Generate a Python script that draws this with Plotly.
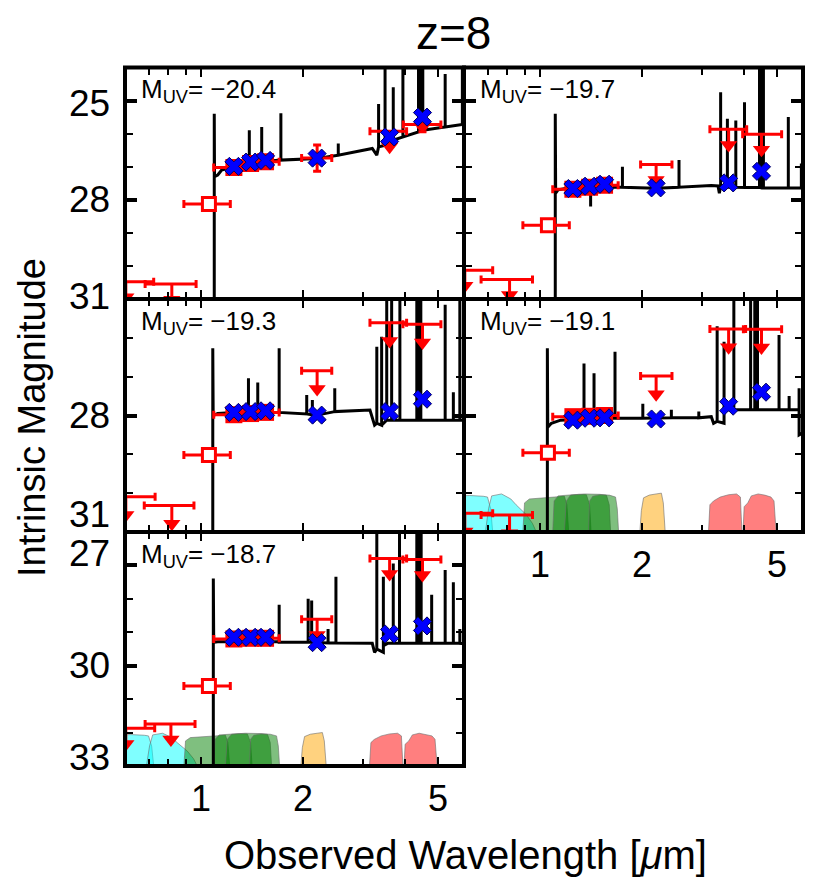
import plotly.graph_objects as go

FONT = "Liberation Sans, Arial, Helvetica, sans-serif"
OFF = 8                      # page offset of the plot div (default body margin)
FIG_W, FIG_H = 831 - OFF, 884 - OFF

# ---------------- data ----------------
MUV = ["−20.4", "−19.7", "−19.3", "−19.1", "−18.7"]

# model photometry (blue crosses)
MODEL_LAM = [1.25, 1.40, 1.55, 2.20, 3.60, 4.50]
model_mag = [
    [26.99, 26.86, 26.81, 26.74, 26.10, 25.50],
    [27.66, 27.59, 27.53, 27.64, 27.49, 27.14],
    [27.92, 27.90, 27.88, 27.99, 27.90, 27.58],
    [28.12, 28.07, 28.06, 28.09, 27.76, 27.40],
    [29.15, 29.15, 29.15, 29.31, 29.05, 28.81],
]

# HST detections (filled red squares)
HST_LAM = [1.25, 1.40, 1.55]
HST_LO = [1.09, 1.20, 1.40]
HST_HI = [1.41, 1.60, 1.70]
hst_mag = [
    [27.02, 26.90, 26.85],
    [27.68, 27.62, 27.56],
    [27.98, 27.95, 27.92],
    [28.03, 28.02, 28.00],
    [29.20, 29.18, 29.18],
]

# ground / IRAC detections (panel 1 only)
p1_det_lam = [2.20, 4.50]
p1_det_lo = [1.98, 3.95]
p1_det_hi = [2.43, 5.10]
p1_det_mag = [26.74, 25.72]
p1_det_err = [0.40, 0.22]

# Y-band points (open squares)
Y_LAM, Y_LO, Y_HI = 1.055, 0.89, 1.22
y_mag = [28.13, 28.77, 29.02, 28.96, 30.61]

# upper limits
ul_lam = [
    [0.60, 0.82, 3.60],
    [0.60, 0.813, 2.20, 3.60, 4.50],
    [0.60, 0.82, 2.20, 3.60, 4.50],
    [0.60, 0.813, 2.20, 3.60, 4.50],
    [0.60, 0.815, 2.20, 3.60, 4.50],
]
ul_lo = [
    [0.50, 0.684, 3.15],
    [0.50, 0.67, 1.98, 3.17, 3.96],
    [0.50, 0.68, 1.98, 3.15, 3.94],
    [0.50, 0.67, 1.98, 3.17, 3.98],
    [0.50, 0.684, 1.98, 3.15, 3.94],
]
ul_hi = [
    [0.725, 0.967, 4.04],
    [0.725, 0.95, 2.45, 4.07, 5.16],
    [0.732, 0.953, 2.43, 4.04, 5.10],
    [0.725, 0.95, 2.45, 4.04, 5.16],
    [0.730, 0.96, 2.43, 4.04, 5.10],
]
ul_mag = [
    [30.48, 30.55, 25.93],
    [30.13, 30.41, 26.93, 25.87, 26.02],
    [30.09, 30.32, 26.85, 25.61, 25.65],
    [30.52, 30.56, 26.98, 25.77, 25.78],
    [31.87, 31.74, 28.61, 26.79, 26.82],
]

# model spectra (continuum + emission-line spikes)
spec_lam = [
    [1.094, 1.094, 1.096, 1.12, 1.15, 1.25, 1.388, 1.388, 1.388, 1.51, 1.51, 1.51,
     1.72, 1.72, 1.72, 2.2, 2.54, 2.54, 2.54, 3.2, 3.3, 3.34, 3.34, 3.34,
     3.49, 3.49, 3.49, 3.6, 3.69, 3.69, 3.69, 3.94, 3.94, 3.94, 4.38, 4.38, 4.38,
     4.46, 4.46, 4.46, 4.51, 4.51, 4.51, 5.25, 5.25, 5.25, 5.9, 5.9, 5.9, 6.1],
    [1.109, 1.109, 1.112, 1.13, 1.2, 1.41, 1.41, 1.41, 1.6, 1.75, 1.75, 1.75,
     2.2, 2.57, 2.57, 2.57, 3.2, 3.35, 3.38, 3.41, 3.41, 3.41, 3.57, 3.57, 3.57,
     3.78, 3.78, 3.78, 4.01, 4.01, 4.01, 4.44, 4.44, 4.44, 4.52, 4.52, 4.52,
     4.56, 4.56, 4.56, 5.4, 5.4, 5.4, 5.9, 5.9, 5.9, 6.1],
    [1.083, 1.083, 1.086, 1.12, 1.25, 1.38, 1.38, 1.38, 1.47, 1.47, 1.47,
     1.70, 1.70, 1.70, 2.05, 2.05, 2.05, 2.13, 2.13, 2.13, 2.2, 2.48, 2.48, 2.48,
     3.15, 3.25, 3.30, 3.30, 3.30, 3.41, 3.41, 3.41, 3.53, 3.53, 3.53,
     3.65, 3.65, 3.65, 3.86, 3.86, 3.86, 4.33, 4.33, 4.33, 4.40, 4.40, 4.40,
     4.45, 4.45, 4.45, 5.25, 5.25, 5.25, 5.55, 5.55, 5.55, 5.8, 5.8, 5.8, 6.1],
    [1.051, 1.051, 1.054, 1.08, 1.15, 1.25, 1.348, 1.348, 1.348, 1.443, 1.443, 1.443,
     1.664, 1.664, 1.664, 2.01, 2.01, 2.01, 2.44, 2.44, 2.44, 2.94, 2.94, 2.94,
     3.2, 3.25, 3.33, 3.33, 3.33, 3.49, 3.49, 3.49, 3.6, 3.73, 3.73, 3.73,
     4.18, 4.18, 4.18, 4.30, 4.30, 4.30, 4.38, 4.38, 4.38, 5.07, 5.07, 5.07,
     5.43, 5.43, 5.43, 5.81, 5.81, 5.81, 6.1],
    [1.087, 1.087, 1.09, 1.12, 1.25, 1.70, 1.70, 1.70, 2.07, 2.07, 2.07,
     2.12, 2.12, 2.12, 2.37, 2.37, 2.37, 2.50, 2.50, 2.50, 3.2, 3.25,
     3.30, 3.30, 3.30, 3.45, 3.45, 3.45, 3.55, 3.69, 3.69, 3.69, 3.85, 3.85, 3.85,
     4.33, 4.33, 4.33, 4.41, 4.41, 4.41, 4.46, 4.46, 4.46, 4.79, 4.79, 4.79,
     5.25, 5.25, 5.25, 5.55, 5.55, 5.55, 5.8, 5.8, 5.8, 6.1],
]
spec_mag = [
    [40.0, 25.4, 27.3, 27.25, 27.1, 27.0, 26.9, 25.9, 26.9, 26.85, 25.8, 26.85,
     26.8, 25.38, 26.8, 26.75, 26.65, 26.3, 26.65, 26.45, 26.65, 26.4, 25.1, 26.4,
     26.35, 23.0, 26.35, 26.25, 26.2, 24.6, 26.2, 26.1, 23.0, 26.1, 25.95, 23.0, 25.95,
     25.9, 23.0, 25.9, 25.9, 23.0, 25.9, 25.8, 24.2, 25.8, 25.72, 23.0, 25.72, 25.7],
    [40.0, 25.4, 27.8, 27.7, 27.65, 27.62, 28.2, 27.62, 27.62, 27.62, 27.0, 27.62,
     27.65, 27.62, 26.8, 27.62, 27.57, 27.58, 27.8, 27.6, 24.75, 27.6, 27.62, 25.55, 27.62,
     27.62, 25.6, 27.62, 27.63, 25.05, 27.63, 27.63, 23.0, 27.63, 27.64, 23.0, 27.64,
     27.64, 23.0, 27.64, 27.64, 25.5, 27.64, 27.64, 26.9, 27.64, 27.64],
    [40.0, 26.27, 28.0, 27.95, 27.92, 27.92, 27.04, 27.92, 27.92, 27.15, 27.92,
     27.92, 26.27, 27.92, 27.96, 27.47, 27.96, 27.98, 27.6, 27.98, 27.99, 27.9, 27.3, 27.9,
     27.86, 28.25, 28.2, 26.23, 28.2, 28.25, 25.97, 28.25, 28.12, 23.0, 28.12,
     28.12, 23.0, 28.12, 28.12, 23.0, 28.12, 28.12, 23.0, 28.12, 28.12, 23.0, 28.12,
     28.12, 23.0, 28.12, 28.12, 25.15, 28.12, 28.12, 27.4, 28.12, 28.12, 23.0, 28.12, 28.12],
    [40.0, 26.27, 28.3, 28.2, 28.12, 28.1, 28.08, 26.66, 28.08, 28.07, 26.91, 28.07,
     28.07, 26.36, 28.07, 28.07, 27.7, 28.07, 28.06, 27.85, 28.06, 28.06, 27.9, 28.06,
     28.03, 28.2, 28.15, 25.7, 28.15, 28.2, 26.1, 27.9, 27.85, 27.85, 23.0, 27.85,
     27.85, 23.0, 27.85, 27.85, 23.0, 27.85, 27.85, 23.0, 27.85, 27.85, 25.93, 27.85,
     27.85, 27.5, 27.85, 27.85, 27.3, 28.5, 28.4],
    [40.0, 27.39, 29.3, 29.28, 29.28, 29.28, 28.18, 29.3, 29.3, 28.0, 29.3,
     29.3, 28.05, 29.3, 29.32, 28.9, 29.32, 29.32, 27.34, 29.32, 29.33, 29.6,
     29.5, 25.0, 29.5, 29.6, 27.34, 29.4, 29.33, 29.33, 26.94, 29.33, 29.33, 25.0, 29.33,
     29.33, 25.0, 29.33, 29.33, 25.0, 29.33, 29.33, 25.0, 29.33, 29.33, 27.88, 29.33,
     29.33, 27.14, 29.33, 29.33, 27.5, 29.33, 29.33, 28.9, 29.33, 29.35],
]

# filter transmission curves (drawn in panels 4 and 5)
filters = [
    ("F606W", [0.47, 0.49, 0.55, 0.62, 0.68, 0.70, 0.715, 0.725],
     [0.0, 0.88, 0.92, 0.94, 0.92, 0.90, 0.6, 0.0], "rgba(0,255,255,0.5)"),
    ("F814W", [0.69, 0.705, 0.72, 0.77, 0.82, 0.85, 0.91, 0.95, 0.975],
     [0.0, 0.6, 0.93, 0.98, 0.85, 0.7, 0.45, 0.22, 0.0], "rgba(0,255,255,0.5)"),
    ("F105W", [0.89, 0.90, 0.93, 1.0, 1.1, 1.18, 1.20, 1.215],
     [0.0, 0.75, 0.85, 0.88, 0.90, 0.92, 0.7, 0.0], "rgba(0,128,0,0.5)"),
    ("F125W", [1.09, 1.10, 1.13, 1.2, 1.3, 1.37, 1.40, 1.415],
     [0.0, 0.8, 0.93, 0.95, 0.97, 0.96, 0.7, 0.0], "rgba(0,128,0,0.5)"),
    ("F140W", [1.18, 1.195, 1.23, 1.35, 1.5, 1.57, 1.60, 1.615],
     [0.0, 0.8, 0.95, 0.98, 0.97, 0.95, 0.7, 0.0], "rgba(0,128,0,0.5)"),
    ("F160W", [1.39, 1.40, 1.43, 1.5, 1.6, 1.67, 1.69, 1.705],
     [0.0, 0.8, 0.92, 0.96, 0.95, 0.9, 0.6, 0.0], "rgba(0,128,0,0.5)"),
    ("Ks", [1.97, 1.99, 2.02, 2.1, 2.2, 2.28, 2.31, 2.34],
     [0.0, 0.55, 0.88, 0.95, 0.98, 1.0, 0.75, 0.0], "rgba(255,165,0,0.5)"),
    ("IRAC1", [3.14, 3.17, 3.25, 3.4, 3.6, 3.8, 3.9, 3.94],
     [0.0, 0.7, 0.8, 0.9, 0.96, 0.98, 0.9, 0.0], "rgba(255,0,0,0.5)"),
    ("IRAC2", [3.97, 4.0, 4.1, 4.2, 4.4, 4.6, 4.8, 4.9, 4.97],
     [0.0, 0.65, 0.75, 0.93, 0.98, 0.95, 0.9, 0.8, 0.0], "rgba(255,0,0,0.5)"),
]

# ---------------- layout / style (page pixel positions) ----------------
COLS = [(125, 464), (464, 803)]
ROWS = [(67.5, 299), (299, 532), (532, 766)]
PANEL_RC = [(0, 0), (0, 1), (1, 0), (1, 1), (2, 0)]
YRANGE = [(31, 24), (31, 24), (31, 25), (31, 25), (33, 26)]
YTICKS = [[25, 28, 31], [25, 28, 31], [25, 28, 31], [25, 28, 31], [27, 30, 33]]
# y labels placed by hand (some are nudged as in the original): (axis, value, shift px)
YLABELS = [("y", 25, -3), ("y", 28, 0), ("y", 31, 3),
           ("y3", 28, 0), ("y3", 31, 18),
           ("y5", 27, 12), ("y5", 30, 0), ("y5", 33, 9)]
XRANGE = [-0.2243, 0.7757]
FILTER_PANELS = [3, 4]
FILTER_H = 1.0
ARROW = 0.42
HEAD = 0.47


def fx(px):
    return (px - OFF) / FIG_W


def fy(py):
    return 1 - (py - OFF) / FIG_H


fig = go.Figure()


def names(i):
    return ("x" if i == 0 else f"x{i+1}", "y" if i == 0 else f"y{i+1}")


for i in range(5):
    xa, ya = names(i)
    r, c = PANEL_RC[i]
    # filter curves
    if i in FILTER_PANELS:
        base = YRANGE[i][0]
        for name, lam, tr, col in filters:
            fig.add_trace(go.Scatter(
                x=lam, y=[base - t * FILTER_H for t in tr], mode="lines",
                fill="toself", fillcolor=col,
                line=dict(color="rgba(110,110,110,0.6)", width=1),
                xaxis=xa, yaxis=ya, hoverinfo="skip", name=name))
    # spectrum
    fig.add_trace(go.Scatter(
        x=spec_lam[i], y=spec_mag[i], mode="lines",
        line=dict(color="black", width=3), xaxis=xa, yaxis=ya,
        hoverinfo="skip", name="model spectrum"))
    # upper limits: bars
    lam, lo, hi, mg = ul_lam[i], ul_lo[i], ul_hi[i], ul_mag[i]
    fig.add_trace(go.Scatter(
        x=lam, y=mg, mode="markers", marker=dict(size=1, color="rgba(0,0,0,0)"),
        error_x=dict(type="data", symmetric=False,
                     array=[h - l for h, l in zip(hi, lam)],
                     arrayminus=[l - o for l, o in zip(lam, lo)],
                     color="red", thickness=3, width=4),
        xaxis=xa, yaxis=ya, hoverinfo="skip", name="upper limit"))
    sx, sy = [], []
    for l, m in zip(lam, mg):
        sx += [l, l, None]
        sy += [m, m + ARROW, None]
    fig.add_trace(go.Scatter(
        x=sx, y=sy, mode="lines", line=dict(color="red", width=3),
        xaxis=xa, yaxis=ya, hoverinfo="skip"))
    fig.add_trace(go.Scatter(
        x=lam, y=[m + HEAD for m in mg], mode="markers",
        marker=dict(symbol="triangle-down", size=15, color="red"),
        xaxis=xa, yaxis=ya, hoverinfo="skip"))
    # HST detections
    fig.add_trace(go.Scatter(
        x=HST_LAM, y=hst_mag[i], mode="markers",
        marker=dict(symbol="square", size=17, color="red"),
        error_x=dict(type="data", symmetric=False,
                     array=[h - l for h, l in zip(HST_HI, HST_LAM)],
                     arrayminus=[l - o for l, o in zip(HST_LAM, HST_LO)],
                     color="red", thickness=3, width=4),
        xaxis=xa, yaxis=ya, hoverinfo="skip"))
    if i == 0:
        fig.add_trace(go.Scatter(
            x=p1_det_lam, y=p1_det_mag, mode="markers",
            marker=dict(symbol="circle", size=13, color="red"),
            error_x=dict(type="data", symmetric=False,
                         array=[h - l for h, l in zip(p1_det_hi, p1_det_lam)],
                         arrayminus=[l - o for l, o in zip(p1_det_lam, p1_det_lo)],
                         color="red", thickness=3, width=4),
            error_y=dict(type="data", array=p1_det_err, color="red",
                         thickness=3, width=4),
            xaxis=xa, yaxis=ya, hoverinfo="skip"))
    # Y-band open square
    fig.add_trace(go.Scatter(
        x=[Y_LAM], y=[y_mag[i]], mode="markers",
        marker=dict(symbol="square", size=13, color="white",
                    line=dict(color="red", width=3)),
        error_x=dict(type="data", symmetric=False, array=[Y_HI - Y_LAM],
                     arrayminus=[Y_LAM - Y_LO], color="red", thickness=3, width=4),
        xaxis=xa, yaxis=ya, hoverinfo="skip"))
    # model photometry
    fig.add_trace(go.Scatter(
        x=MODEL_LAM, y=model_mag[i], mode="markers",
        marker=dict(symbol="x", size=16, color="#0000ff",
                    line=dict(color="#000060", width=1)),
        xaxis=xa, yaxis=ya, hoverinfo="skip"))

    # axes
    xd = [fx(COLS[c][0]), fx(COLS[c][1])]
    yd = [fy(ROWS[r][1]), fy(ROWS[r][0])]
    xkey = "xaxis" if i == 0 else f"xaxis{i+1}"
    ykey = "yaxis" if i == 0 else f"yaxis{i+1}"
    fig.layout[xkey] = dict(
        type="log", range=XRANGE, domain=xd, anchor=ya, automargin=False,
        tickmode="array", tickvals=[1, 2, 5], ticktext=["1", "2", "5"],
        showticklabels=(i in (3, 4)), ticks="inside", ticklen=9, tickwidth=2,
        tickcolor="black", mirror="ticks", showline=False, showgrid=False,
        zeroline=False, tickfont=dict(family=FONT, size=36, color="black"),
        ticklabelstandoff=8,
        minor=dict(tickmode="array", tickvals=[0.6, 0.7, 0.8, 0.9, 3, 4, 6],
                   ticks="inside", ticklen=7, tickwidth=2, tickcolor="black",
                   showgrid=False))
    fig.layout[ykey] = dict(
        range=list(YRANGE[i]), domain=yd, anchor=xa, automargin=False,
        tickmode="array", tickvals=YTICKS[i], showticklabels=False,
        ticks="inside", ticklen=12, tickwidth=4, tickcolor="black",
        mirror="ticks", showline=False, showgrid=False, zeroline=False,
        minor=dict(dtick=1, ticks="inside", ticklen=8, tickwidth=2,
                   tickcolor="black", showgrid=False))
    # border
    fig.add_shape(type="rect", xref=f"{xa} domain", yref=f"{ya} domain",
                  x0=0, x1=1, y0=0, y1=1, line=dict(color="black", width=4),
                  layer="above")
    # M_UV label
    fig.add_annotation(xref=f"{xa} domain", yref=f"{ya} domain", x=0.04, y=0.9,
                       xanchor="left", yanchor="middle", showarrow=False,
                       text=f"M<sub>UV</sub>=\u00a0{MUV[i]}",
                       font=dict(family=FONT, size=26, color="black"))

# y tick labels
for ya, val, shift in YLABELS:
    fig.add_annotation(xref="paper", yref=ya, x=fx(112), y=val,
                       xanchor="right", yanchor="middle", yshift=shift,
                       showarrow=False, text=str(val),
                       font=dict(family=FONT, size=37, color="black"))

# titles
fig.add_annotation(xref="paper", yref="paper", x=fx(453), y=fy(33),
                   xanchor="center", yanchor="middle", showarrow=False,
                   text="z=8", font=dict(family=FONT, size=46, color="black"))
fig.add_annotation(xref="paper", yref="paper", x=fx(465), y=fy(855),
                   xanchor="center", yanchor="middle", showarrow=False,
                   text="Observed Wavelength [<i>μ</i>m]",
                   font=dict(family=FONT, size=40, color="black"))
fig.add_annotation(xref="paper", yref="paper", x=fx(32), y=fy(418),
                   xanchor="center", yanchor="middle", showarrow=False,
                   textangle=-90, text="Intrinsic Magnitude",
                   font=dict(family=FONT, size=38, color="black"))

fig.update_layout(width=FIG_W, height=FIG_H,
                  margin=dict(l=0, r=0, t=0, b=0, autoexpand=False),
                  paper_bgcolor="white", plot_bgcolor="white", showlegend=False,
                  font=dict(family=FONT, color="black"))

fig.write_html("out.html")
